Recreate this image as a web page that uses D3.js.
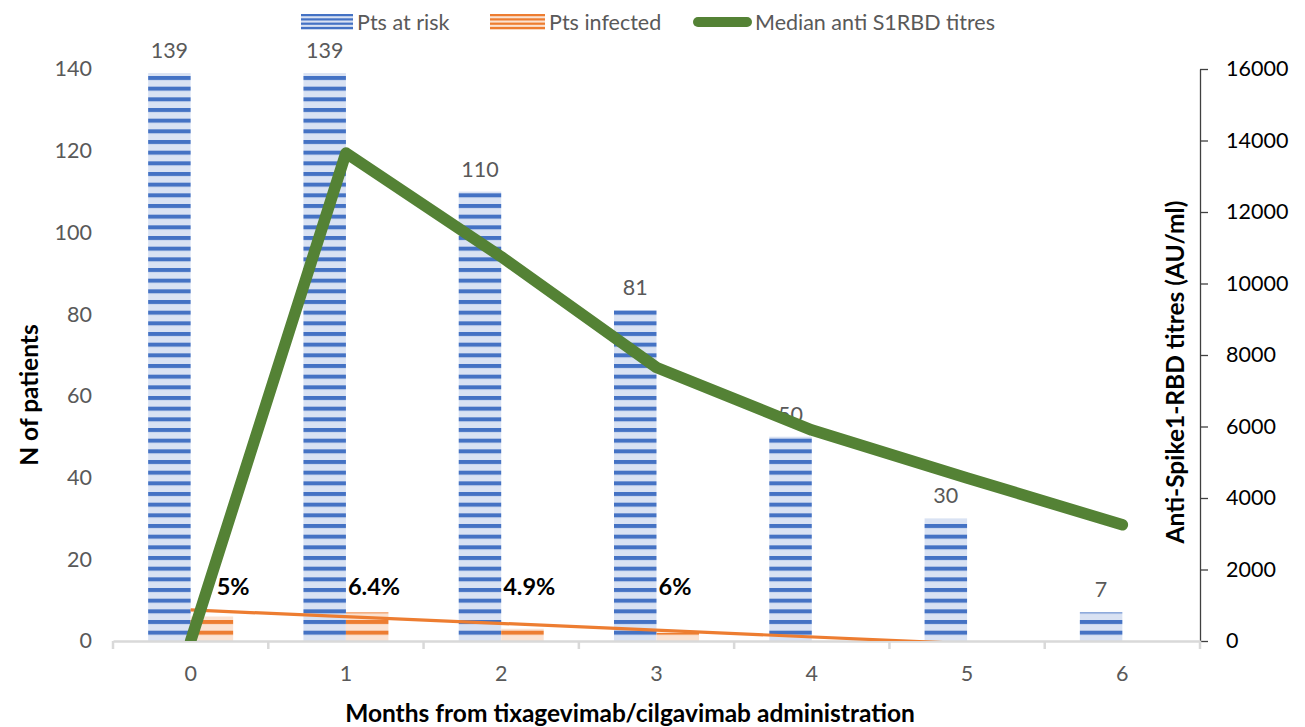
<!DOCTYPE html>
<html>
<head>
<meta charset="utf-8">
<script src="https://cdn.jsdelivr.net/npm/d3@7"></script>
<style>
  html, body { margin: 0; padding: 0; background: #ffffff; }
  svg { display: block; font-family: Lato, "Open Sans", sans-serif; }
</style>
</head>
<body>
<svg id="chart" width="1305" height="727"></svg>
<script>
// ---------- data ----------
const months = ["0", "1", "2", "3", "4", "5", "6"];
const ptsAtRisk = [139, 139, 110, 81, 50, 30, 7];
const ptsInfected = [6, 7, 3, 2, 0, 0, 0];
const medianTitres = [0, 13650, 10750, 7650, 5900, 4560, 3250];
const infectedPct = ["5%", "6.4%", "4.9%", "6%"];
// infected trend line, read as two points (month, patients), extended past the axis
const trendMonths = [0, 6];
const trendValues = [7.6, -2.3];
const leftTicks = [0, 20, 40, 60, 80, 100, 120, 140];
const rightTicks = [0, 2000, 4000, 6000, 8000, 10000, 12000, 14000, 16000];
const seriesNames = ["Pts at risk", "Pts infected", "Median anti S1RBD titres"];

// ---------- layout ----------
const plot = { left: 113, right: 1200, top: 69, bottom: 641 };
const blue = "#4472C4", blueLight = "#D9E2F3";
const orange = "#ED7D31", orangeLight = "#FBE3D3";
const green = "#548235";
const gray = "#595959";
const pctNudge = [26, 2, 2, 2];
const tickFont = "21.5px";
const titleFont = "24.5px";

const svg = d3.select("#chart");

// patterns
const defs = svg.append("defs");
function stripe(id, dark, light) {
  const p = defs.append("pattern")
    .attr("id", id).attr("patternUnits", "userSpaceOnUse")
    .attr("x", 0).attr("y", 1.33)
    .attr("width", 16).attr("height", 10.667);
  p.append("rect").attr("width", 16).attr("height", 10.667).attr("fill", light);
  p.append("rect").attr("y", 0).attr("width", 16).attr("height", 4).attr("fill", dark);
}
stripe("pBlue", blue, blueLight);
stripe("pOrange", orange, orangeLight);
defs.append("clipPath").attr("id", "plotClip")
  .append("rect").attr("x", plot.left).attr("y", plot.top - 20)
  .attr("width", plot.right - plot.left + 20).attr("height", plot.bottom - plot.top + 20);
defs.append("clipPath").attr("id", "trendClip")
  .append("rect").attr("x", plot.left).attr("y", plot.top)
  .attr("width", plot.right - plot.left).attr("height", plot.bottom - plot.top);

// scales
const x = d3.scaleBand().domain(months).range([plot.left, plot.right]).paddingInner(0).paddingOuter(0);
const bw = x.bandwidth();
const barW = 42.5;
const xc = m => x(m) + bw / 2;
const yL = d3.scaleLinear().domain([0, 140]).range([plot.bottom, plot.top]);
const yR = d3.scaleLinear().domain([0, 16000]).range([plot.bottom, plot.top]);
const xCont = d3.scaleLinear().domain([0, 6]).range([xc("0"), xc("6")]);

// left axis (labels only)
const leftAxis = svg.append("g").attr("transform", `translate(${plot.left},0)`)
  .call(d3.axisLeft(yL).tickValues(leftTicks).tickSize(0).tickPadding(21));
leftAxis.select(".domain").remove();
leftAxis.selectAll("text").attr("fill", gray).style("font-size", tickFont).style("font-family", "Lato");

// right axis
const rightAxis = svg.append("g").attr("transform", `translate(${plot.right},0)`)
  .call(d3.axisRight(yR).tickValues(rightTicks).tickFormat(d3.format("d"))
    .tickSize(8).tickPadding(18).tickSizeOuter(0));
rightAxis.select(".domain").attr("stroke", "#404040").attr("stroke-width", 1.3);
rightAxis.selectAll(".tick line").attr("stroke", "#404040").attr("stroke-width", 1.3);
rightAxis.selectAll("text").attr("fill", "#000").style("font-size", tickFont).style("font-family", "Lato");

// bars
const gBars = svg.append("g");
gBars.selectAll("rect.risk").data(months).join("rect").attr("class", "risk")
  .attr("x", m => xc(m) - barW)
  .attr("width", barW)
  .attr("y", (m, i) => yL(ptsAtRisk[i]))
  .attr("height", (m, i) => yL(0) - yL(ptsAtRisk[i]))
  .attr("fill", "url(#pBlue)");
gBars.selectAll("rect.inf").data(months).join("rect").attr("class", "inf")
  .attr("x", m => xc(m))
  .attr("width", barW)
  .attr("y", (m, i) => yL(ptsInfected[i]))
  .attr("height", (m, i) => yL(0) - yL(ptsInfected[i]))
  .attr("fill", "url(#pOrange)");

// x axis
const xAxis = svg.append("g").attr("transform", `translate(0,${plot.bottom})`)
  .call(d3.axisBottom(x).tickSize(0).tickPadding(25));
xAxis.select(".domain").attr("stroke", "#D9D9D9").attr("stroke-width", 2.5);
xAxis.selectAll("text").attr("fill", gray).style("font-size", tickFont).style("font-family", "Lato");
const bounds = months.map(m => x(m)).concat([plot.right]);
svg.append("g").selectAll("line").data(bounds).join("line")
  .attr("x1", d => d).attr("x2", d => d)
  .attr("y1", plot.bottom).attr("y2", plot.bottom + 8)
  .attr("stroke", "#D9D9D9").attr("stroke-width", 2.5);

// bar value labels
svg.append("g").selectAll("text").data(months).join("text")
  .attr("x", m => xc(m) - barW / 2)
  .attr("y", (m, i) => yL(ptsAtRisk[i]) - 15)
  .attr("text-anchor", "middle")
  .attr("fill", gray)
  .style("font-size", tickFont)
  .text((m, i) => ptsAtRisk[i]);

// trend line of infected
const trendData = trendMonths.map((m, i) => [xCont(m), yL(trendValues[i])]);
svg.append("path")
  .attr("clip-path", "url(#trendClip)")
  .attr("d", d3.line()(trendData))
  .attr("fill", "none").attr("stroke", orange).attr("stroke-width", 3.2);

// percentage labels
svg.append("g").selectAll("text").data(infectedPct).join("text")
  .attr("x", (d, i) => xc(months[i]) + pctNudge[i])
  .attr("y", 595)
  .attr("fill", "#000")
  .style("font-size", "23.5px").style("font-weight", "bold")
  .text(d => d);

// median titres line
svg.append("path")
  .datum(medianTitres)
  .attr("clip-path", "url(#plotClip)")
  .attr("d", d3.line().x((d, i) => xc(months[i])).y(d => yR(d)))
  .attr("fill", "none").attr("stroke", green).attr("stroke-width", 11.5)
  .attr("stroke-linejoin", "round").attr("stroke-linecap", "round");

// axis titles
svg.append("text")
  .attr("transform", `translate(38,395) rotate(-90)`)
  .attr("text-anchor", "middle").attr("fill", "#000")
  .style("font-size", titleFont).style("font-weight", "bold")
  .text("N of patients");
svg.append("text")
  .attr("transform", `translate(1184,372) rotate(-90)`)
  .attr("text-anchor", "middle").attr("fill", "#000")
  .style("font-size", titleFont).style("font-weight", "bold")
  .text("Anti-Spike1-RBD titres (AU/ml)");
svg.append("text")
  .attr("x", 630).attr("y", 722)
  .attr("text-anchor", "middle").attr("fill", "#000")
  .style("font-size", titleFont).style("font-weight", "bold")
  .text("Months from tixagevimab/cilgavimab administration");

// legend
const lg = svg.append("g");
const legendY = 22;
const legendItems = [
  { x: 301, w: 52, tx: 357, type: "pBlue" },
  { x: 490, w: 55, tx: 549, type: "pOrange" },
  { x: 693, w: 59, tx: 755, type: "line" }
];
legendItems.forEach((it, i) => {
  if (it.type === "line") {
    lg.append("line").attr("x1", it.x + 5).attr("x2", it.x + it.w - 5)
      .attr("y1", legendY).attr("y2", legendY)
      .attr("stroke", green).attr("stroke-width", 10).attr("stroke-linecap", "round");
  } else {
    const col = it.type === "pBlue" ? blue : orange;
    const lt = it.type === "pBlue" ? blueLight : orangeLight;
    lg.append("rect").attr("x", it.x).attr("y", legendY - 8).attr("width", it.w).attr("height", 16).attr("fill", lt);
    [0, 1, 2, 3].forEach(k => {
      lg.append("rect").attr("x", it.x).attr("y", legendY - 8 + k * 4.3).attr("width", it.w).attr("height", 2.2).attr("fill", col);
    });
  }
  lg.append("text").attr("x", it.tx).attr("y", legendY + 8)
    .attr("fill", gray).style("font-size", tickFont)
    .text(seriesNames[i]);
});
</script>
</body>
</html>
